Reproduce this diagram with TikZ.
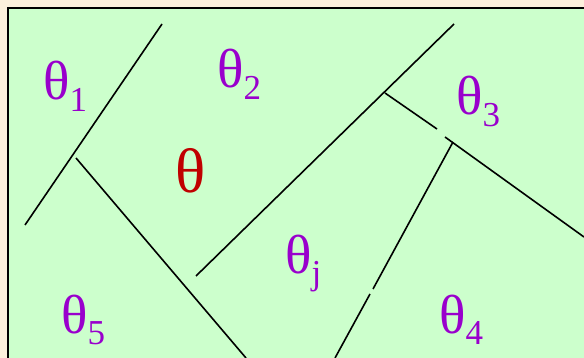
\documentclass[tikz,border=0pt]{standalone}
\usepackage{fontspec}
\setmainfont{Liberation Serif}
\definecolor{paper}{HTML}{FCF0DC}
\definecolor{field}{HTML}{CCFFCC}
\definecolor{labpurple}{HTML}{9900CC}
\definecolor{labred}{HTML}{C00000}
\newcommand{\thsub}[1]{θ\raisebox{-12pt}{\fontsize{35}{35}\selectfont #1}}
\tikzset{
  region/.style={inner sep=0pt,anchor=base west,text=labpurple,
    font=\fontsize{55}{55}\selectfont},
  estimate/.style={region,text=labred,font=\fontsize{63}{63}\selectfont},
  border/.style={line width=2pt},
  cut/.style={line width=1.6pt}
}
\begin{document}
\begin{tikzpicture}[x=1pt,y=-1pt]
\useasboundingbox (0,0) rectangle (584,358);
\clip (0,0) rectangle (584,358);
\fill[paper] (0,0) rectangle (584,358);
\draw[border,fill=field] (8,8) rectangle (600,380);
% boundaries between the regions
\coordinate (a1) at (25,225);  \coordinate (a2) at (162,24);
\coordinate (b1) at (76,158);  \coordinate (b2) at (246,358);
\coordinate (c1) at (196,276); \coordinate (c2) at (454,24);
\coordinate (d1) at (385,93);  \coordinate (d2) at (437,129);
\coordinate (d3) at (445,137); \coordinate (d4) at (584,237);
\coordinate (e1) at (453,142); \coordinate (e2) at (373,289);
\coordinate (e3) at (370,294); \coordinate (e4) at (335,358);
\foreach \p/\q in {a1/a2,b1/b2,c1/c2,d1/d2,d3/d4,e1/e2,e3/e4}
  \draw[cut] (\p)--(\q);
% labels
\node[region] (th1) at (43,100) {\thsub{1}};
\node[region] (th2) at (217,88) {\thsub{2}};
\node[region] (th3) at (456,115) {\thsub{3}};
\node[region] (thj) at (285,273) {\thsub{j}};
\node[region] (th5) at (61,333) {\thsub{5}};
\node[region] (th4) at (439,333) {\thsub{4}};
\node[estimate] (th) at (175,193) {θ};
\end{tikzpicture}
\end{document}
